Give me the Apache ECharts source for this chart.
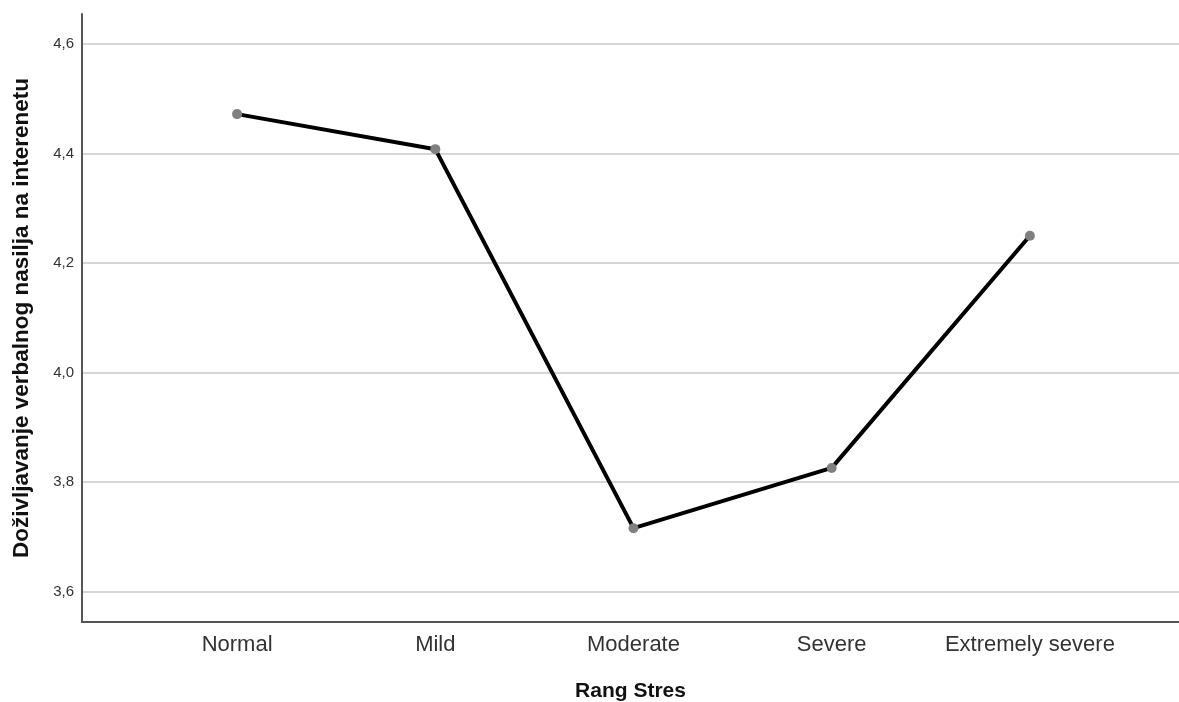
<!DOCTYPE html>
<html>
<head>
<meta charset="utf-8">
<script src="https://cdn.jsdelivr.net/npm/echarts@6/dist/echarts.min.js"></script>
<style>
html,body{margin:0;padding:0;background:#fff;}
#chart{width:1179px;height:702px;}
</style>
</head>
<body>
<div id="chart"></div>
<script>
var categories = ['Normal', 'Mild', 'Moderate', 'Severe', 'Extremely severe'];
var values = [4.472, 4.408, 3.716, 3.826, 4.250];
var yMin = 3.6, yMax = 4.6, yStep = 0.2;
var xTitle = 'Rang Stres';
var yTitle = 'Doživljavanje verbalnog nasilja na interenetu';

var FONT = '"Liberation Sans", Arial, sans-serif';
var chart = echarts.init(document.getElementById('chart'));
chart.setOption({
  animation: false,
  backgroundColor: '#ffffff',
  grid: [
    {left: 82, right: 0, top: 44, bottom: 110.3, outerBoundsMode: 'none', containLabel: false},
    {left: 82, right: 0, top: 14, bottom: 80, outerBoundsMode: 'none', containLabel: false},
    {left: 138, right: 50, top: 44, bottom: 110.3, outerBoundsMode: 'none', containLabel: false}
  ],
  xAxis: [
    {gridIndex: 0, type: 'value', show: false, min: 0, max: 1},
    {gridIndex: 1, type: 'value', min: 0, max: 1,
     axisLine: {show: true, lineStyle: {color: '#555', width: 2}},
     axisTick: {show: false}, axisLabel: {show: false}, splitLine: {show: false},
     name: xTitle, nameLocation: 'middle', nameGap: 59,
     nameTextStyle: {fontFamily: FONT, fontSize: 21, fontWeight: 'bold', color: '#111'}},
    {gridIndex: 2, type: 'category', data: categories, boundaryGap: true, offset: 30.3,
     axisLine: {show: false}, axisTick: {show: false},
     axisLabel: {fontFamily: FONT, fontSize: 22, color: '#333', margin: 12, interval: 0}}
  ],
  yAxis: [
    {gridIndex: 0, type: 'value', min: yMin, max: yMax, interval: yStep,
     axisLine: {show: false}, axisTick: {show: false},
     axisLabel: {fontFamily: FONT, fontSize: 15, color: '#333', margin: 8,
       formatter: function (v) { return v.toFixed(1).replace('.', ','); }},
     splitLine: {show: true, lineStyle: {color: '#c8c8c8', width: 1.5}}},
    {gridIndex: 1, type: 'value', min: 0, max: 1,
     axisLine: {show: true, lineStyle: {color: '#555', width: 2}},
     axisTick: {show: false}, axisLabel: {show: false}, splitLine: {show: false},
     name: yTitle, nameLocation: 'middle', nameGap: 49, nameRotate: 90,
     nameTextStyle: {fontFamily: FONT, fontSize: 22.5, fontWeight: 'bold', color: '#111'}},
    {gridIndex: 2, type: 'value', min: yMin, max: yMax, show: false}
  ],
  series: [{
    type: 'line',
    xAxisIndex: 2, yAxisIndex: 2,
    data: values,
    lineStyle: {color: '#000', width: 4},
    symbol: 'circle', symbolSize: 10,
    itemStyle: {color: '#808080'},
    z: 5
  }]
});
</script>
</body>
</html>
